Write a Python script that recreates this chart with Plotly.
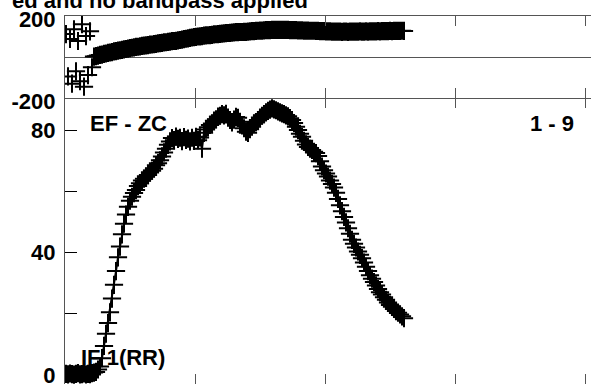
import plotly.graph_objects as go

W, H = 591, 384

# Baseline EF - ZC, IF 1 (RR): per-channel amplitude and phase
amplitude = [
    0.4, 0.2, 0.5, 0.3, 0.1, 0.4, 0.6, 0.2, 0.3, 0.5,
    0.2, 0.4, 0.3, 0.6, 0.8, 1.0, 1.8, 2.8, 5.5, 9.5,
    13.5, 17.0, 20.5, 25.0, 29.5, 34.0, 38.5, 42.0, 46.0, 49.5,
    52.5, 55.0, 57.0, 58.3, 59.5, 60.5, 61.8, 62.7, 63.6, 64.2,
    65.0, 65.4, 66.2, 66.8, 67.5, 68.6, 69.3, 70.2, 71.5, 72.8,
    74.0, 75.3, 76.4, 77.5, 76.8, 78.0, 77.2, 77.6, 76.5, 77.8,
    76.9, 77.3, 76.4, 77.6, 76.6, 77.9, 76.8, 77.7, 74.0, 79.2,
    80.3, 81.0, 81.8, 82.3, 83.2, 83.6, 84.5, 84.8, 85.3, 84.9,
    85.4, 84.2, 83.4, 82.6, 83.5, 84.4, 84.1, 82.8, 81.6, 80.7,
    79.6, 79.2, 80.4, 81.2, 82.3, 82.7, 83.4, 84.2, 84.8, 85.3,
    85.9, 86.4, 86.8, 87.2, 86.9, 86.6, 86.2, 85.9, 85.6, 85.3,
    84.9, 84.6, 84.0, 83.4, 82.4, 81.2, 80.1, 78.9, 77.9, 76.6,
    75.4, 74.6, 74.0, 73.6, 73.0, 72.6, 71.6, 69.9, 68.2, 67.0,
    65.9, 64.9, 63.6, 62.5, 61.3, 59.6, 57.6, 55.5, 53.6, 51.7,
    49.9, 48.0, 46.2, 44.2, 42.9, 41.7, 40.4, 39.3, 38.2, 36.8,
    35.4, 34.0, 32.6, 31.5, 30.4, 29.3, 28.1, 27.1, 26.3, 25.4,
    24.6, 23.7, 22.9, 22.3, 21.6, 20.9, 20.4, 19.8, 19.2, 18.6,
]

phase = [
    112, -95, 88, -130, 135, -70, 78, -118, 160, -145,
    102, -88, 125, -50, 2, 4, 7, 10, 12, 15,
    17, 20, 22, 24, 27, 29, 31, 33, 35, 37,
    39, 41, 43, 45, 47, 49, 50, 52, 54, 55,
    57, 58, 60, 61, 63, 64, 66, 68, 69, 71,
    72, 74, 75, 77, 78, 79, 81, 83, 85, 87,
    89, 91, 93, 95, 97, 98, 100, 101, 102, 104,
    105, 106, 107, 108, 110, 111, 112, 113, 114, 115,
    116, 117, 118, 119, 120, 121, 121, 122, 122, 123,
    123, 124, 125, 126, 126, 127, 128, 129, 129, 130,
    131, 131, 131, 132, 132, 132, 132, 132, 132, 132,
    132, 132, 131, 131, 131, 131, 130, 130, 130, 129,
    129, 129, 128, 128, 128, 127, 127, 126, 126, 126,
    125, 125, 125, 124, 124, 124, 124, 124, 123, 124,
    124, 123, 124, 124, 124, 124, 124, 125, 124, 124,
    125, 124, 125, 125, 125, 125, 126, 125, 126, 126,
    126, 126, 127, 126, 127, 127, 127, 127, 128, 127,
]

channels = list(range(1, len(amplitude) + 1))

channel_ticks = [65.5, 130.5, 195.5, 260.5]
phase_ticks = [-200, 200]
amp_ticks = [0, 20, 40, 60, 80]
amp_ticktext = ["0", "", "40", "", "80"]

FONT = "Liberation Sans, Arial, sans-serif"
LINE = "#555555"


def px(x):
    return x / W


def py(y):
    return 1 - y / H


cross = dict(symbol="cross-thin", size=13, color="black",
             line=dict(color="black", width=2))

fig = go.Figure()
fig.add_trace(go.Scatter(x=channels, y=phase, mode="markers", marker=cross,
                         xaxis="x", yaxis="y", showlegend=False))
fig.add_trace(go.Scatter(x=channels, y=amplitude, mode="lines+markers",
                         marker=cross, line=dict(color="black", width=2),
                         xaxis="x2", yaxis="y2", showlegend=False))

xdom = [px(65), 1.0]
xrange_ = [0.5, 0.5 + (W - 65) / 2]
tickfont = dict(family=FONT, size=22, color="black", weight="bold")

fig.update_layout(
    width=W, height=H,
    margin=dict(l=0, r=0, t=0, b=0, pad=0, autoexpand=False),
    paper_bgcolor="white", plot_bgcolor="white",
    font=dict(family=FONT, color="black"),
    xaxis=dict(domain=xdom, anchor="y", range=xrange_, tickvals=channel_ticks,
               showticklabels=False, ticks="inside", ticklen=10, tickcolor=LINE,
               showline=True, linecolor=LINE, linewidth=1, mirror="allticks",
               showgrid=False, zeroline=False),
    xaxis2=dict(domain=xdom, anchor="y2", range=xrange_, tickvals=channel_ticks,
                showticklabels=False, ticks="inside", ticklen=10, tickcolor=LINE,
                showline=False, mirror="allticks", showgrid=False, zeroline=False),
    yaxis=dict(domain=[py(98), py(16)], anchor="x", range=[-200, 200],
               tickvals=phase_ticks, ticktext=["-200", "200"], ticks="",
               tickfont=tickfont, ticklabelstandoff=4, ticklabelshift=3,
               ticklabeloverflow="allow",
               showline=True, linecolor=LINE, linewidth=1, mirror=False,
               showgrid=False, zeroline=True, zerolinecolor=LINE, zerolinewidth=1),
    yaxis2=dict(domain=[0, py(98)], anchor="x2", range=[-2.94, 90.6],
                tickvals=amp_ticks, ticktext=amp_ticktext, ticks="inside",
                ticklen=12, tickcolor="black", tickfont=tickfont,
                ticklabelstandoff=4, ticklabelshift=0, ticklabeloverflow="allow",
                showline=True, linecolor=LINE, linewidth=1, mirror=False,
                showgrid=False, zeroline=False),
    yaxis3=dict(overlaying="y2", side="right", anchor="x2", range=[-2.94, 90.6],
                tickvals=amp_ticks, showticklabels=False, ticks="inside",
                ticklen=6, tickcolor="black", showline=False, showgrid=False,
                zeroline=False),
)

labfont = dict(family=FONT, size=22, color="black", weight="bold")
annotations = [
    dict(text="ed and no bandpass applied", x=px(309), y=py(0.5),
         xanchor="right", yanchor="middle"),
    dict(text="EF - ZC", x=px(89), y=py(123), xanchor="left", yanchor="middle"),
    dict(text="1 - 9", x=px(575), y=py(123), xanchor="right", yanchor="middle"),
    dict(text="IF 1(RR)", x=px(80), y=py(357), xanchor="left", yanchor="middle"),
]
for a in annotations:
    fig.add_annotation(xref="paper", yref="paper", showarrow=False,
                       font=labfont, borderpad=0, **a)

fig.write_html("out.html")
